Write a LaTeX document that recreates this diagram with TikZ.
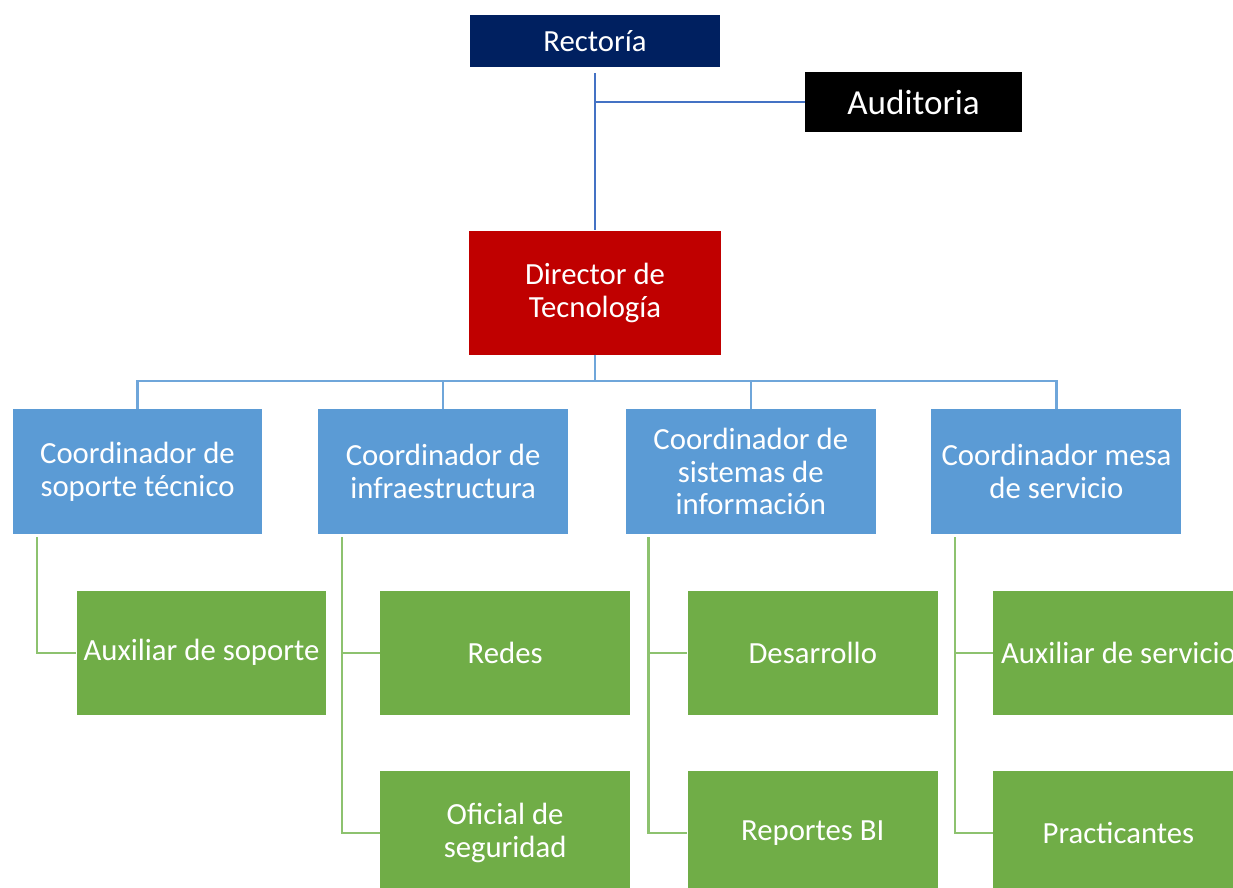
\documentclass[tikz,border=0pt]{standalone}
\usepackage{fontspec}
\setmainfont{Carlito}
\usetikzlibrary{positioning}

\definecolor{rectnavy}{HTML}{002060}
\definecolor{dirred}{HTML}{C00000}
\definecolor{coordblue}{HTML}{5B9BD5}
\definecolor{auxgreen}{HTML}{70AD47}
\definecolor{toplinecol}{HTML}{4472C4}
\definecolor{buslinecol}{HTML}{6FA6DA}
\definecolor{greenlinecol}{HTML}{8DC26F}

\begin{document}
\begin{tikzpicture}[x=0.02cm, y=-0.02cm, node distance=1.1cm,
    every node/.style={rectangle, text=white, align=center, inner sep=2pt, font=\fontsize{17.5}{18.7}\selectfont},
    topbox/.style={fill=rectnavy, minimum width=5cm, minimum height=1.04cm},
    audbox/.style={fill=black, minimum width=4.34cm, minimum height=1.2cm, font=\fontsize{20}{22}\selectfont},
    dirbox/.style={fill=dirred, minimum width=5.04cm, minimum height=2.48cm},
    coordbox/.style={fill=coordblue, minimum width=5cm, minimum height=2.5cm},
    auxbox/.style={fill=auxgreen, minimum width=5cm, minimum height=2.48cm},
    topline/.style={draw=toplinecol, line width=1.1pt},
    busline/.style={draw=buslinecol, line width=1.3pt},
    greenline/.style={draw=greenlinecol, line width=1.3pt}]

    \useasboundingbox (0,0) rectangle (1233,888);
    \clip (0,0) rectangle (1233,888);

    % Top of the chart
    \node[topbox] (rect) at (595,41) {Rectoría};
    \node[audbox] (aud) at (913.5,102) {Auditoria};
    \node[dirbox] (dir) [below=3.26cm of rect] {Director de\\Tecnología};

    % Coordinators
    \node[coordbox] (coordsop) at (137.5,471.5) {Coordinador de\\soporte técnico};
    \node[coordbox] (coordinf) [right=1.1cm of coordsop] {Coordinador de\\infraestructura};
    \node[coordbox] (coordsis) [right=1.14cm of coordinf] {Coordinador de\\sistemas de\\información};
    \node[coordbox] (coordmesa) [right=1.1cm of coordsis] {Coordinador mesa\\de servicio};

    % Staff under each coordinator
    \node[auxbox] (auxsop) [below=1.12cm of coordsop, xshift=1.28cm] {Auxiliar de soporte};
    \node[auxbox] (redes) [below=1.12cm of coordinf, xshift=1.24cm] {Redes};
    \node[auxbox] (oficial) [below=1.12cm of redes] {Oficial de\\seguridad};
    \node[auxbox] (desarrollo) [below=1.12cm of coordsis, xshift=1.24cm] {Desarrollo};
    \node[auxbox] (reportes) [below=1.12cm of desarrollo] {Reportes BI};
    \node[auxbox] (auxserv) [below=1.12cm of coordmesa, xshift=1.24cm] {Auxiliar de servicio};
    \node[auxbox] (practicantes) [below=1.12cm of auxserv] {Practicantes};

    % Lines from the top
    \draw[topline] ([yshift=-0.12cm]rect.south) -- (dir.north);
    \draw[topline] (rect.south |- aud.west) -- (aud.west);

    % Bus to the coordinators
    \draw[busline] (dir.south) -- ++(0,-0.52cm) -| (coordsop.north);
    \draw[busline] (dir.south) -- ++(0,-0.52cm) -| (coordinf.north);
    \draw[busline] (dir.south) -- ++(0,-0.52cm) -| (coordsis.north);
    \draw[busline] (dir.south) -- ++(0,-0.52cm) -| (coordmesa.north);

    % Coordinator to staff
    \draw[greenline] ([xshift=0.5cm, yshift=-0.06cm]coordsop.south west) |- (auxsop.west);
    \draw[greenline] ([xshift=0.48cm, yshift=-0.06cm]coordinf.south west) |- (redes.west);
    \draw[greenline] ([xshift=0.48cm, yshift=-0.06cm]coordinf.south west) |- (oficial.west);
    \draw[greenline] ([xshift=0.46cm, yshift=-0.06cm]coordsis.south west) |- (desarrollo.west);
    \draw[greenline] ([xshift=0.46cm, yshift=-0.06cm]coordsis.south west) |- (reportes.west);
    \draw[greenline] ([xshift=0.48cm, yshift=-0.06cm]coordmesa.south west) |- (auxserv.west);
    \draw[greenline] ([xshift=0.48cm, yshift=-0.06cm]coordmesa.south west) |- (practicantes.west);

\end{tikzpicture}
\end{document}
